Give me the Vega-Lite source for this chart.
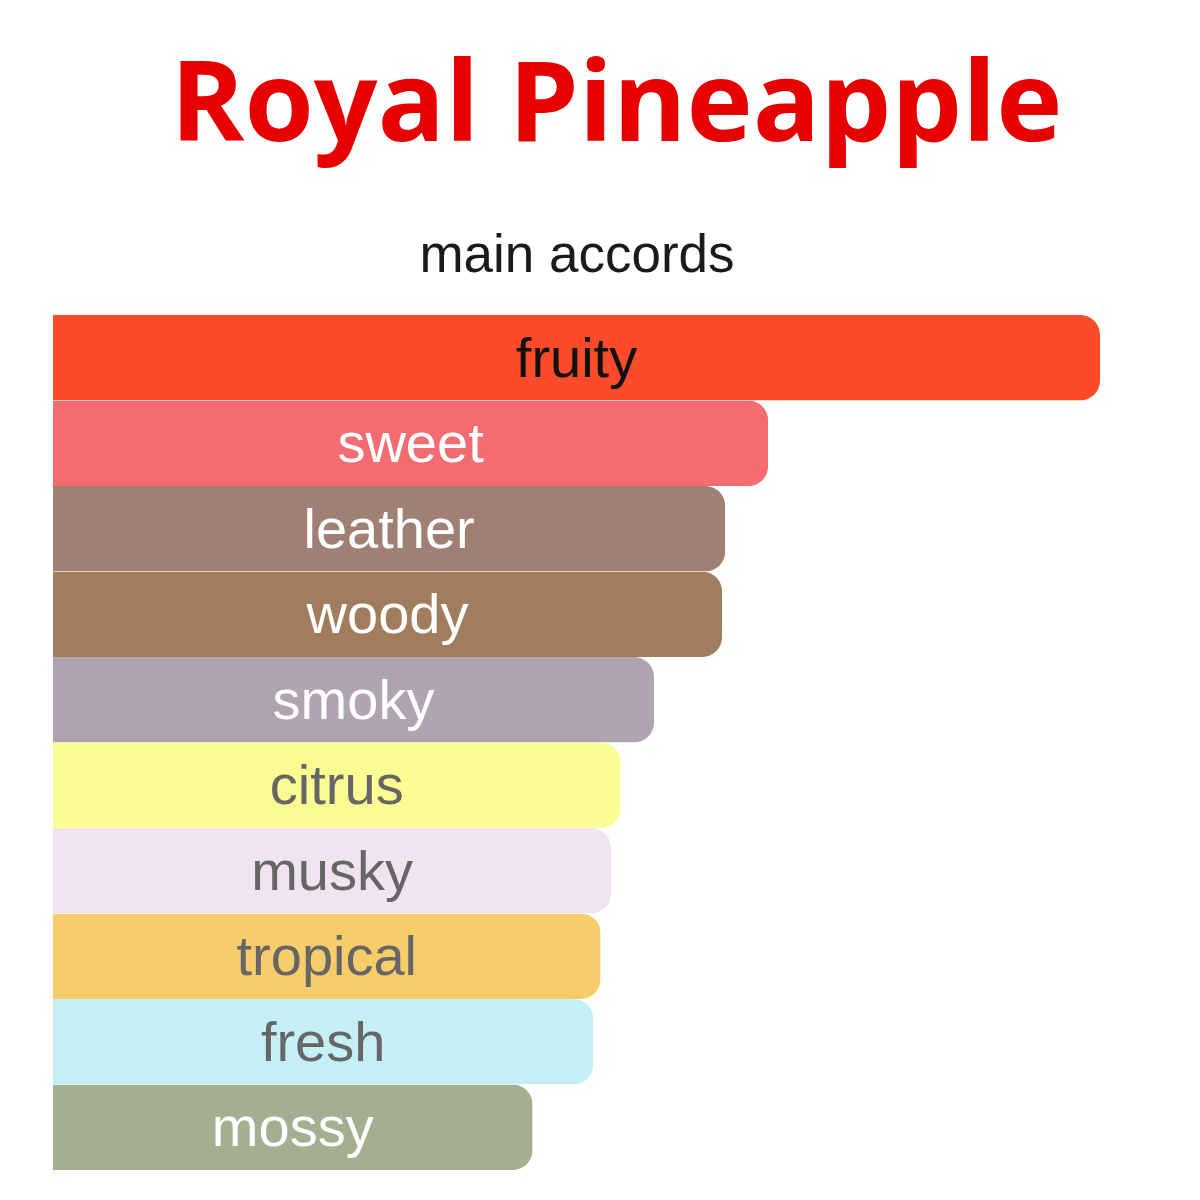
{
  "$schema": "https://vega.github.io/schema/vega-lite/v6.json",
  "description": "Main accords of Royal Pineapple as horizontal bars with labels inside.",
  "width": 1047,
  "height": 855,
  "autosize": "none",
  "padding": {"left": 53, "top": 315, "right": 100, "bottom": 30},
  "background": "#ffffff",
  "title": {
    "text": "Royal Pineapple",
    "font": "Open Sans",
    "fontSize": 112,
    "fontWeight": 700,
    "color": "#e60000",
    "anchor": "middle",
    "dx": 40,
    "offset": 64
  },
  "data": {
    "values": [
      {"accord": "fruity", "strength": 100},
      {"accord": "sweet", "strength": 68.3},
      {"accord": "leather", "strength": 64.2},
      {"accord": "woody", "strength": 63.9},
      {"accord": "smoky", "strength": 57.4},
      {"accord": "citrus", "strength": 54.2},
      {"accord": "musky", "strength": 53.3},
      {"accord": "tropical", "strength": 52.3},
      {"accord": "fresh", "strength": 51.6},
      {"accord": "mossy", "strength": 45.8}
    ]
  },
  "encoding": {
    "y": {
      "field": "accord",
      "type": "nominal",
      "sort": null,
      "axis": null,
      "scale": {"paddingInner": 0, "paddingOuter": 0}
    }
  },
  "layer": [
    {
      "mark": {
        "type": "bar",
        "cornerRadiusTopRight": 20,
        "cornerRadiusBottomRight": 20
      },
      "encoding": {
        "x": {
          "field": "strength",
          "type": "quantitative",
          "scale": {"domain": [0, 100], "nice": false},
          "axis": {
            "orient": "top",
            "title": "main accords",
            "titleFont": "Liberation Sans",
            "titleFontSize": 53,
            "titleFontWeight": "normal",
            "titleColor": "#1a1a1a",
            "titlePadding": 33,
            "labels": false,
            "ticks": false,
            "domain": false,
            "grid": false
          }
        },
        "color": {
          "field": "accord",
          "type": "nominal",
          "legend": null,
          "scale": {
            "domain": ["fruity", "sweet", "leather", "woody", "smoky", "citrus", "musky", "tropical", "fresh", "mossy"],
            "range": ["#fc4b2a", "#f26c71", "#a08075", "#a07d5d", "#b0a4b0", "#fcfc92", "#f0e4f0", "#f7cc6b", "#c4eff4", "#a5ae8f"]
          }
        }
      }
    },
    {
      "mark": {
        "type": "text",
        "font": "Liberation Sans",
        "fontSize": 56,
        "align": "center",
        "baseline": "middle",
        "dy": 2
      },
      "encoding": {
        "x": {
          "field": "strength",
          "type": "quantitative",
          "scale": {"domain": [0, 200], "nice": false},
          "axis": null
        },
        "text": {"field": "accord"},
        "color": {
          "field": "accord",
          "type": "nominal",
          "legend": null,
          "scale": {
            "domain": ["fruity", "sweet", "leather", "woody", "smoky", "citrus", "musky", "tropical", "fresh", "mossy"],
            "range": ["#111111", "#ffffff", "#ffffff", "#ffffff", "#ffffff", "#666666", "#666666", "#666666", "#666666", "#ffffff"]
          }
        }
      }
    }
  ],
  "resolve": {"scale": {"color": "independent", "x": "independent"}},
  "config": {"view": {"stroke": null}}
}
